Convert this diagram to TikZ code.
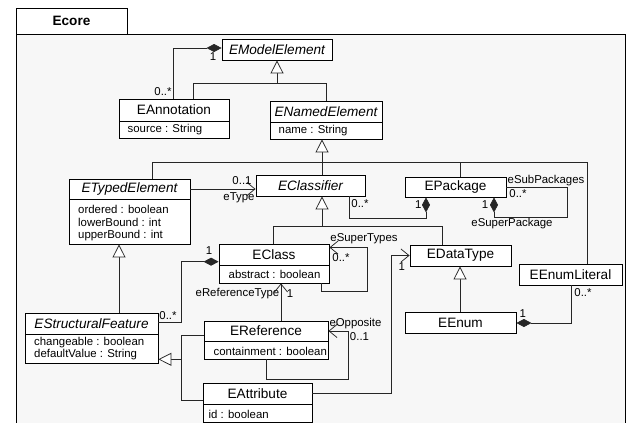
\documentclass[tikz,border=0pt]{standalone}
\usepackage{fontspec}
\setmainfont{Liberation Sans}
\usetikzlibrary{arrows.meta,fit}
\definecolor{bg}{RGB}{247,247,247}
\tikzset{
 clsbox/.style={draw=black, line width=0.85pt, fill=white, inner sep=0pt},
 divline/.style={draw=black, line width=0.85pt},
 cname/.style={font=\fontsize{13.6}{16}\selectfont, inner sep=0pt},
 cnamei/.style={font=\fontsize{13.6}{16}\selectfont\itshape, inner sep=0pt},
 attr/.style={font=\fontsize{11.4}{13.3}\selectfont, inner sep=0pt, anchor=west},
 lbl/.style={font=\fontsize{11.4}{13.3}\selectfont, inner sep=0pt},
 conn/.style={draw=black!85, line width=0.75pt},
 comp/.style={conn, -{Diamond[length=15pt,width=8pt]}},
 gen/.style={conn, -{Triangle[length=13pt,width=13pt,fill=white]}},
 nav/.style={conn, -{Straight Barb[length=8pt,width=13pt]}},
}
\begin{document}
\begin{tikzpicture}[x=1pt,y=-1pt]
\useasboundingbox (0,0) rectangle (632,423);
% frame
\fill[bg] (16,34) rectangle (625,430);
\draw[line width=0.85pt] (16,430) -- (16,34) -- (625,34) -- (625,430);
\node[draw, line width=0.85pt, fill=white, inner sep=0pt, fit={(16,8.7) (127,34)}] (tab) {};
\node[font=\fontsize{13.6}{16}\selectfont\bfseries, inner sep=0pt] (tabname) at (tab.center) {Ecore};

% ---------- classes ----------
% EModelElement
\node[clsbox, fit={(222,39) (332,60)}] (eme) {};
\node[cnamei] (emen) at (eme.center) {EModelElement};
% EAnnotation
\node[clsbox, fit={(119,99) (229,138)}] (ean) {};
\draw[divline] (119,121) -- (229,121);
\node[cname] (eann) at (174,110) {EAnnotation};
\node[attr] (eana) at (127.5,129.5) {source : String};
% ENamedElement
\node[clsbox, fit={(270,101) (382,139)}] (ene) {};
\draw[divline] (270,122) -- (382,122);
\node[cnamei] (enen) at (326,111.5) {ENamedElement};
\node[attr] (enea) at (278.5,130.5) {name : String};
% ETypedElement
\node[clsbox, fit={(69,179) (190,244)}] (ete) {};
\draw[divline] (69,199) -- (190,199);
\node[cnamei] (eten) at (129.5,189) {ETypedElement};
\node[attr] (etea) at (78,209.5) {ordered : boolean};
\node[attr] (eteb) at (78,222.5) {lowerBound : int};
\node[attr] (etec) at (78,235.5) {upperBound : int};
% EClassifier
\node[clsbox, fit={(256,175) (365,196)}] (ecl) {};
\node[cnamei] (ecln) at (ecl.center) {EClassifier};
% EPackage
\node[clsbox, fit={(405,177) (506,197)}] (epk) {};
\node[cname] (epkn) at (epk.center) {EPackage};
% EClass
\node[clsbox, fit={(219,244) (329,283)}] (ecs) {};
\draw[divline] (219,265) -- (329,265);
\node[cname] (ecsn) at (274,254.5) {EClass};
\node[attr] (ecsa) at (228.5,274) {abstract : boolean};
% EDataType
\node[clsbox, fit={(410,245) (511,266)}] (edt) {};
\node[cname] (edtn) at (edt.center) {EDataType};
% EEnumLiteral
\node[clsbox, fit={(519,264) (622,285)}] (eel) {};
\node[cname] (eeln) at (eel.center) {EEnumLiteral};
% EStructuralFeature
\node[clsbox, fit={(25,313) (158,363)}] (esf) {};
\draw[divline] (25,334) -- (158,334);
\node[cnamei] (esfn) at (91.5,323.5) {EStructuralFeature};
\node[attr] (esfa) at (34,342.7) {changeable : boolean};
\node[attr] (esfb) at (34,355) {defaultValue : String};
% EReference
\node[clsbox, fit={(204,321) (328,359)}] (erf) {};
\draw[divline] (204,341) -- (328,341);
\node[cname] (erfn) at (266,331) {EReference};
\node[attr] (erfa) at (213.5,351.5) {containment : boolean};
% EEnum
\node[clsbox, fit={(405,312) (516,333)}] (een) {};
\node[cname] (eenn) at (een.center) {EEnum};
% EAttribute
\node[clsbox, fit={(203,383) (312,422)}] (eat) {};
\draw[divline] (203,404) -- (312,404);
\node[cname] (eatn) at (257.5,393.5) {EAttribute};
\node[attr] (eata) at (208.5,414) {id : boolean};

% ---------- connectors ----------
% EAnnotation -> EModelElement composition
\coordinate (c1) at (173,48);
\draw[comp] (c1 |- ean.north) -- (c1) -- (c1 -| eme.west);
\node[lbl] at (213,57) {1};
\node[lbl] at (163,92) {0..*};

% generalization to EModelElement
\coordinate (g1a) at (193,83);
\coordinate (g1b) at (326,83);
\coordinate (g1) at (277,83);
\draw[conn] (g1a |- ean.north) -- (g1a) -- (g1b) -- (g1b |- ene.north);
\draw[gen] (g1) -- (g1 |- eme.south);

% generalization to ENamedElement
\coordinate (g2a) at (152,162.5);
\coordinate (g2b) at (587,162.5);
\coordinate (g2) at (322,162.5);
\coordinate (g2c) at (460,162.5);
\draw[conn] (g2a |- ete.north) -- (g2a) -- (g2b) -- (g2b |- eel.north);
\draw[conn] (g2 |- ecl.north) -- (g2);
\draw[conn] (g2c |- epk.north) -- (g2c);
\draw[gen] (g2) -- (g2 |- ene.south);

% eType
\coordinate (t1) at (200,189);
\draw[nav] (t1 -| ete.east) -- (t1 -| ecl.west);
\node[lbl] at (242,181) {0..1};
\node[lbl] at (239,198) {eType};

% EPackage - EClassifier composition
\coordinate (p1) at (349,218);
\coordinate (p2) at (426,218);
\draw[comp] (p1 |- ecl.south) -- (p1) -- (p2) -- (p2 |- epk.south);
\node[lbl] at (360,203.3) {0..*};
\node[lbl] at (418.3,205) {1};

% EPackage self composition
\coordinate (s1) at (567,187);
\coordinate (s2) at (567,217);
\coordinate (s3) at (494,217);
\draw[comp] (s1 -| epk.east) -- (s1) -- (s2) -- (s3) -- (s3 |- epk.south);
\node[lbl] at (546,180.7) {eSubPackages};
\node[lbl] at (518,193.3) {0..*};
\node[lbl] at (485,205) {1};
\node[lbl] at (512,223.3) {eSuperPackage};

% generalization to EClassifier
\coordinate (g3a) at (273,226);
\coordinate (g3b) at (442,226);
\coordinate (g3) at (322,226);
\draw[conn] (g3a |- ecs.north) -- (g3a) -- (g3b) -- (g3b |- edt.north);
\draw[gen] (g3) -- (g3 |- ecl.south);

% eSuperTypes
\coordinate (st1) at (321,291);
\coordinate (st2) at (367,291);
\coordinate (st3) at (367,247.5);
\draw[nav] (st1 |- ecs.south) -- (st1) -- (st2) -- (st3) -- (st3 -| ecs.east);
\node[lbl] at (364,239) {eSuperTypes};
\node[lbl] at (341,257.3) {0..*};

% EEnum -> EDataType generalization
\coordinate (g4) at (460,290);
\draw[gen] (g4 |- een.north) -- (g4 |- edt.south);

% EEnum - EEnumLiteral composition
\coordinate (el1) at (571,323);
\draw[comp] (el1 |- eel.south) -- (el1) -- (el1 -| een.east);
\node[lbl] at (583,292.7) {0..*};
\node[lbl] at (522.7,313.3) {1};

% EClass - EStructuralFeature composition
\coordinate (sf1) at (181.7,322.3);
\coordinate (sf2) at (181.7,261.7);
\draw[comp] (sf1 -| esf.east) -- (sf1) -- (sf2) -- (sf2 -| ecs.west);
\node[lbl] at (209,251) {1};
\node[lbl] at (168,315.7) {0..*};

% EStructuralFeature -> ETypedElement generalization
\coordinate (g5) at (119,280);
\draw[gen] (g5 |- esf.north) -- (g5 |- ete.south);

% EReference / EAttribute -> EStructuralFeature generalization
\coordinate (g6a) at (181.7,335.7);
\coordinate (g6b) at (181.7,400.7);
\coordinate (g6) at (181.7,359.3);
\draw[conn] (g6a -| erf.west) -- (g6a) -- (g6b) -- (g6b -| eat.west);
\draw[gen] (g6) -- (g6 -| esf.east);

% eReferenceType
\coordinate (rt) at (281,300);
\draw[nav] (rt |- erf.north) -- (rt |- ecs.south);
\node[lbl] at (237.5,294) {eReferenceType};
\node[lbl] at (290,293.5) {1};

% eOpposite
\coordinate (o1) at (266,379);
\coordinate (o2) at (348,379);
\coordinate (o3) at (348,331);
\draw[nav] (o1 |- erf.south) -- (o1) -- (o2) -- (o3) -- (o3 -| erf.east);
\node[lbl] at (355.5,323.3) {eOpposite};
\node[lbl] at (359.5,336.7) {0..1};

% EAttribute -> EDataType
\coordinate (a1) at (391,393.3);
\coordinate (a2) at (391,255.5);
\draw[nav] (a1 -| eat.east) -- (a1) -- (a2) -- (a2 -| edt.west);
\node[lbl] at (401.7,266.5) {1};
\end{tikzpicture}
\end{document}
